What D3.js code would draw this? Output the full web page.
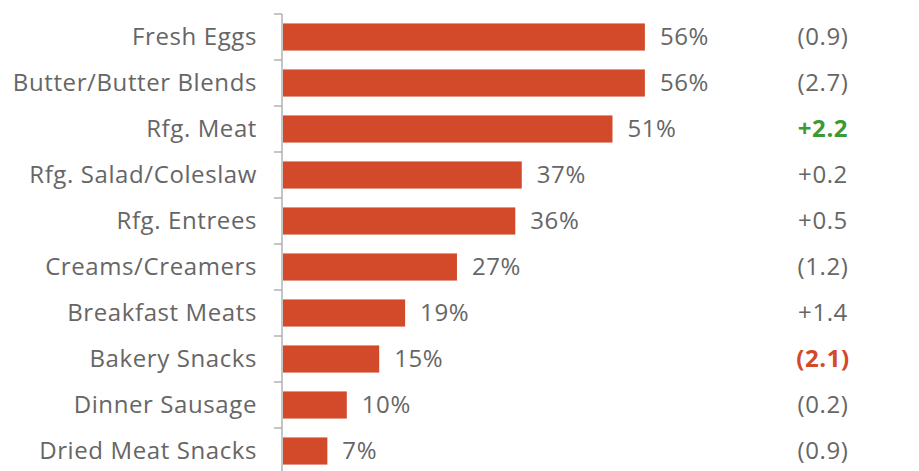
<!DOCTYPE html>
<html>
<head>
<meta charset="utf-8">
<script src="https://cdn.jsdelivr.net/npm/d3@7"></script>
<style>
  html, body { margin: 0; padding: 0; background: #fff; }
  svg { display: block; }
  text { font-family: "Open Sans", "Noto Sans", sans-serif; letter-spacing: 0.6px; }
</style>
</head>
<body>
<svg id="chart" width="919" height="471"></svg>
<script>
// Share of households buying, by category, with change vs. prior year (pts)
const categories = [
  "Fresh Eggs", "Butter/Butter Blends", "Rfg. Meat", "Rfg. Salad/Coleslaw",
  "Rfg. Entrees", "Creams/Creamers", "Breakfast Meats", "Bakery Snacks",
  "Dinner Sausage", "Dried Meat Snacks"
];
const shares = [56, 56, 51, 37, 36, 27, 19, 15, 10, 7];
const changes = [-0.9, -2.7, 2.2, 0.2, 0.5, -1.2, 1.4, -2.1, -0.2, -0.9];
// Changes called out as notable
const highlight = ["none", "none", "up", "none", "none", "none", "none", "down", "none", "none"];

const barColor = "#d24a2a";
const textColor = "#666666";
const upColor = "#3b9a35";
const downColor = "#d24a2a";

const svg = d3.select("#chart");
const axisX = 282;

const x = d3.scaleLinear().domain([0, 100]).range([axisX, axisX + 648]);
const y = d3.scaleBand().domain(categories).range([14, 474])
  .paddingInner(0.41).paddingOuter(0.205);

const step = y.step();
const top0 = y.range()[0];

// Vertical axis line with outward ticks on category boundaries
const axisG = svg.append("g");
axisG.append("line")
  .attr("x1", axisX).attr("x2", axisX)
  .attr("y1", top0).attr("y2", y.range()[1])
  .attr("stroke", "#a6a6a6").attr("stroke-width", 1.3);
axisG.selectAll("line.tick")
  .data(d3.range(categories.length + 1))
  .join("line")
  .attr("class", "tick")
  .attr("x1", axisX - 8).attr("x2", axisX)
  .attr("y1", i => top0 + i * step).attr("y2", i => top0 + i * step)
  .attr("stroke", "#a6a6a6").attr("stroke-width", 1.3);

// Bars
svg.selectAll("rect.bar")
  .data(categories)
  .join("rect")
  .attr("class", "bar")
  .attr("x", x(0) + 1)
  .attr("y", d => y(d))
  .attr("width", (d, i) => x(shares[i]) - x(0) - 1)
  .attr("height", y.bandwidth())
  .attr("fill", barColor);

const fontSize = 24;

// Category labels
svg.selectAll("text.cat")
  .data(categories)
  .join("text")
  .attr("class", "cat")
  .attr("x", 257)
  .attr("y", d => y(d) + y.bandwidth() / 2)
  .attr("dy", "0.35em")
  .attr("text-anchor", "end")
  .attr("font-size", fontSize)
  .attr("fill", textColor)
  .text(d => d);

// Share labels
svg.selectAll("text.val")
  .data(categories)
  .join("text")
  .attr("class", "val")
  .attr("x", (d, i) => x(shares[i]) + 15)
  .attr("y", d => y(d) + y.bandwidth() / 2)
  .attr("dy", "0.35em")
  .attr("font-size", fontSize)
  .attr("fill", textColor)
  .text((d, i) => shares[i] + "%");

// Change column
const fmtChange = v => v < 0 ? "(" + Math.abs(v).toFixed(1) + ")" : "+" + v.toFixed(1);
svg.selectAll("text.chg")
  .data(categories)
  .join("text")
  .attr("class", "chg")
  .attr("x", 823)
  .attr("y", d => y(d) + y.bandwidth() / 2)
  .attr("dy", "0.35em")
  .attr("text-anchor", "middle")
  .attr("font-size", fontSize)
  .attr("font-weight", (d, i) => highlight[i] === "none" ? 400 : 700)
  .attr("fill", (d, i) => highlight[i] === "up" ? upColor : highlight[i] === "down" ? downColor : textColor)
  .text((d, i) => fmtChange(changes[i]));
</script>
</body>
</html>
